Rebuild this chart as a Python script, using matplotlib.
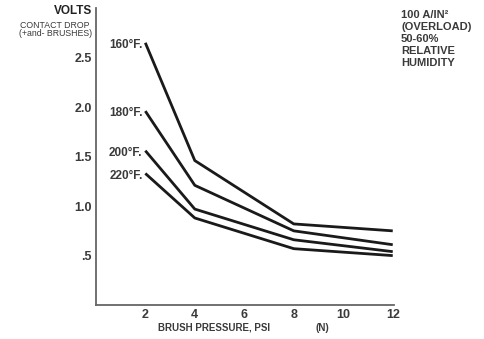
import matplotlib
matplotlib.use("Agg")
import matplotlib.pyplot as plt

plt.rcParams['font.family'] = ['Liberation Sans', 'DejaVu Sans']

# brush pressure (psi)
pressure = [2, 4, 8, 12]

# contact drop in volts, one series per temperature
temps = ['160°F.', '180°F.', '200°F.', '220°F.']
volts_160 = [2.65, 1.46, 0.82, 0.75]
volts_180 = [1.96, 1.21, 0.75, 0.61]
volts_200 = [1.56, 0.97, 0.66, 0.54]
volts_220 = [1.33, 0.88, 0.57, 0.50]
series = [volts_160, volts_180, volts_200, volts_220]

xticks = [2, 4, 6, 8, 10, 12]
yticks = [0.5, 1.0, 1.5, 2.0, 2.5]
ytick_labels = ['.5', '1.0', '1.5', '2.0', '2.5']

ink = '#1a1a1a'
txt = '#3a3a3a'

fig = plt.figure(figsize=(4.84, 3.39), dpi=100)
ax = fig.add_axes([0.198, 0.100, 0.616, 0.876])

for name, vals in zip(temps, series):
    ax.plot(pressure, vals, color=ink, linewidth=2.0, solid_capstyle='butt')
    ax.annotate(name, xy=(pressure[0], vals[0]), xytext=(-2, -1.5),
                textcoords='offset points', ha='right', va='center',
                fontsize=8.5, fontweight='bold', color=txt)

ax.set_xlim(0, 12.05)
ax.set_ylim(0, 3.0)
ax.set_xticks(xticks)
ax.set_yticks(yticks)
ax.set_yticklabels(ytick_labels)
ax.tick_params(length=0, labelsize=9, labelcolor=txt)
ax.tick_params(axis='y', pad=3)
ax.tick_params(axis='x', pad=3)
for lab in ax.get_xticklabels() + ax.get_yticklabels():
    lab.set_fontweight('bold')

for side in ['top', 'right']:
    ax.spines[side].set_visible(False)
for side in ['left', 'bottom']:
    ax.spines[side].set_color('#666666')
    ax.spines[side].set_linewidth(1.3)

# axis titles
fig.text(92 / 484, 1 - 11 / 339, 'VOLTS', ha='right', va='center',
         fontsize=8.5, fontweight='bold', color='#222222')
fig.text(90 / 484, 1 - 25 / 339, 'CONTACT DROP', ha='right', va='center',
         fontsize=6.3, color=txt)
fig.text(92 / 484, 1 - 33 / 339, '(+and- BRUSHES)', ha='right', va='center',
         fontsize=6.3, color=txt)

fig.text(158 / 484, 1 - 328 / 339, 'BRUSH PRESSURE, PSI', ha='left', va='center',
         fontsize=7, fontweight='bold', color=txt)
fig.text(315 / 484, 1 - 328 / 339, '(N)', ha='left', va='center',
         fontsize=7, fontweight='bold', color=txt)

# test conditions note
note = ['100 A/IN²', '(OVERLOAD)', '50-60%', 'RELATIVE', 'HUMIDITY']
for i, line in enumerate(note):
    fig.text(401 / 484, 1 - (15 + i * 12) / 339, line, ha='left', va='center',
             fontsize=8, fontweight='bold', color=txt)

fig.savefig('out.png', dpi=100)
